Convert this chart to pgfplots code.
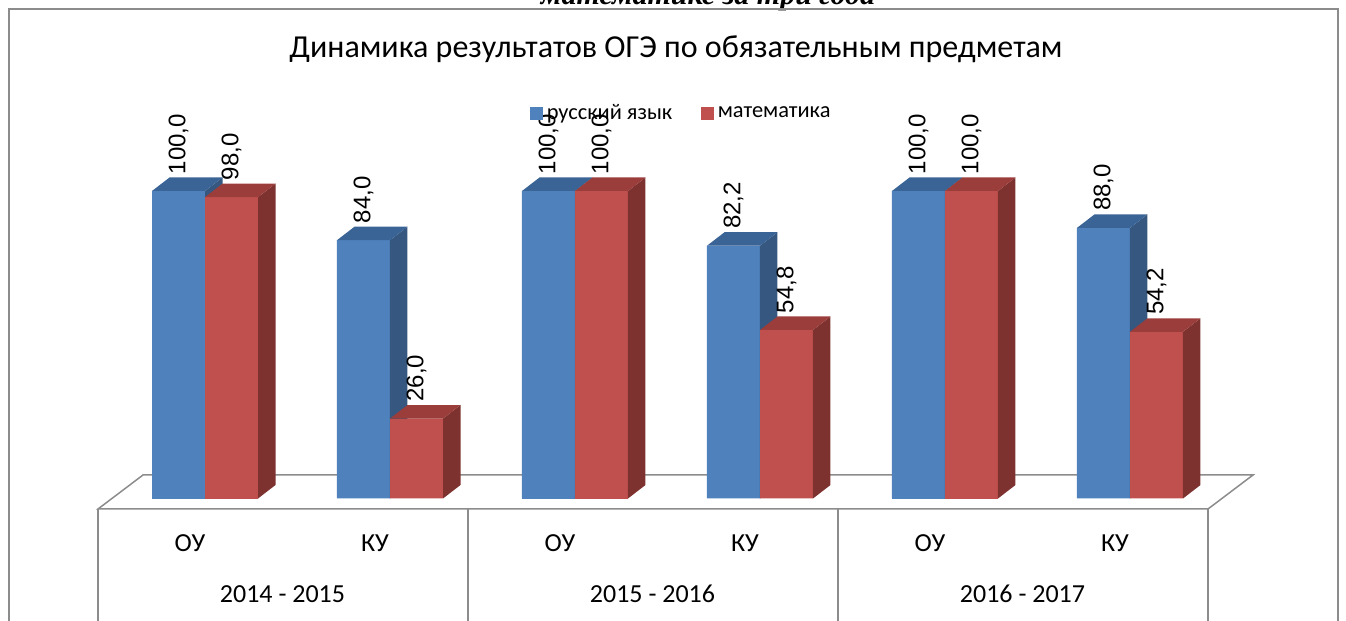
\documentclass[border=0pt]{standalone}
\usepackage{fontspec}
\setmainfont{Carlito}
\newfontfamily\valfont{Liberation Sans}
\newfontfamily\topfont{Liberation Serif}
\usepackage{pgfplots}
\pgfplotsset{compat=1.18}
\usepackage{pgfplotstable}

\definecolor{bfront}{HTML}{4F81BD}
\definecolor{btop}{HTML}{3B6496}
\definecolor{bside}{HTML}{355780}
\definecolor{rfront}{HTML}{C0504D}
\definecolor{rtop}{HTML}{9B3D3A}
\definecolor{rside}{HTML}{7E3230}
\definecolor{gridgray}{HTML}{8C8C8C}

\pgfplotstableread{
x rus
0 100.0
1 84.0
2 100.0
3 82.2
4 100.0
5 88.0
}\rus
\pgfplotstableread{
x mat
0 98.0
1 26.0
2 100.0
3 54.8
4 100.0
5 54.2
}\mat

% front, side and top faces of a 3D column; origin = top of the bar at category x
\newcommand\barfaces[4]{%
  \pgfmathsetmacro\H{\yv*1.5375}%
  \pgfmathsetmacro\Lx{#1}%
  \pgfmathsetmacro\Rx{#1+26.5}%
  \pgfsetfillcolor{#2}%
  \pgfpathrectanglecorners{\pgfpoint{\Lx pt}{-\H pt}}{\pgfpoint{\Rx pt}{0pt}}%
  \pgfusepath{fill}%
  \pgfsetfillcolor{#3}%
  \pgfpathmoveto{\pgfpoint{\Rx pt}{0pt}}%
  \pgfpathlineto{\pgfpoint{\Rx pt+8.75pt}{6.75pt}}%
  \pgfpathlineto{\pgfpoint{\Rx pt+8.75pt}{6.75pt-\H pt}}%
  \pgfpathlineto{\pgfpoint{\Rx pt}{-\H pt}}%
  \pgfpathclose
  \pgfusepath{fill}%
  \pgfsetfillcolor{#4}%
  \pgfpathmoveto{\pgfpoint{\Lx pt}{0pt}}%
  \pgfpathlineto{\pgfpoint{\Lx pt+8.75pt}{6.75pt}}%
  \pgfpathlineto{\pgfpoint{\Rx pt+8.75pt}{6.75pt}}%
  \pgfpathlineto{\pgfpoint{\Rx pt}{0pt}}%
  \pgfpathclose
  \pgfusepath{fill}%
}

\begin{document}
\begin{tikzpicture}[x=0.5pt,y=0.5pt]
\useasboundingbox (0,0) rectangle (1346,621);
\node[font=\topfont\bfseries\itshape\fontsize{15}{17}\selectfont, anchor=base, inner sep=0pt] at (708,616) {математике за три года};
\draw[gridgray, line width=1pt] (9,612) rectangle (1338,-30);
\node[font=\fontsize{16}{19}\selectfont, anchor=base, inner sep=0pt] at (676,563) {Динамика результатов ОГЭ по обязательным предметам};
\draw[gridgray, line width=0.75pt, fill=white] (98,112) -- (143,146) -- (1253,146) -- (1208,112) -- cycle;
\foreach \xx in {98,468,838,1208} \draw[gridgray, line width=1pt] (\xx,112) -- (\xx,-30);
\begin{axis}[
  at={(56.25pt,61.25pt)}, anchor=south west,
  scale only axis, width=555pt, height=153.75pt,
  xmin=-0.5, xmax=5.5, ymin=0, ymax=100,
  enlargelimits=false, clip=false,
  axis line style={draw=none}, major tick length=0pt,
  ytick=\empty,
  xtick={0,...,5},
  xticklabels={ОУ,КУ,ОУ,КУ,ОУ,КУ},
  extra x ticks={0.5,2.5,4.5},
  extra x tick labels={2014 - 2015,2015 - 2016,2016 - 2017},
  xticklabel style={font=\fontsize{13}{15}\selectfont, anchor=base, xshift=-7.5pt, yshift=-26.75pt},
  extra x tick style={xticklabel style={yshift=-25.5pt}},
  legend columns=2,
  legend style={at={(0.376,1.252)}, anchor=west, draw=none, fill=none, inner sep=0pt,
    font=\fontsize{11.2}{13}\selectfont,
    /tikz/every even column/.append style={column sep=12.5pt}},
  /pgf/number format/assume math mode=true,
]
\addplot[ybar, bar width=26.5pt, bar shift=-13.25pt, fill=bfront, draw=none,
  legend image code/.code={\fill[bfront] (0pt,-3.125pt) rectangle (6.25pt,3.125pt);},
  nodes near coords={\pgfmathprintnumber[fixed,fixed zerofill,precision=1,use comma]{\pgfplotspointmeta}},
  every node near coord/.append style={font=\valfont\fontsize{12}{14}\selectfont, text=black, inner sep=1pt, xshift=-13.25pt, yshift=7.25pt, rotate=90, anchor=west}]
  table[x=x, y=rus]{\rus};
\addlegendentry{русский язык}
\addplot[forget plot, scatter, only marks, mark=*, mark size=0pt, mark options={draw=none, fill=none},
  visualization depends on={\thisrow{rus} \as \yv},
  scatter/@pre marker code/.code={\barfaces{-26.5}{bfront}{bside}{btop}},
  scatter/@post marker code/.code={}]
  table[x=x, y=rus]{\rus};
\addplot[ybar, bar width=26.5pt, bar shift=13.25pt, fill=rfront, draw=none,
  legend image code/.code={\fill[rfront] (0pt,-3.125pt) rectangle (6.25pt,3.125pt);},
  nodes near coords={\pgfmathprintnumber[fixed,fixed zerofill,precision=1,use comma]{\pgfplotspointmeta}},
  every node near coord/.append style={font=\valfont\fontsize{12}{14}\selectfont, text=black, inner sep=1pt, xshift=13.25pt, yshift=7.25pt, rotate=90, anchor=west}]
  table[x=x, y=mat]{\mat};
\addlegendentry{математика}
\addplot[forget plot, scatter, only marks, mark=*, mark size=0pt, mark options={draw=none, fill=none},
  visualization depends on={\thisrow{mat} \as \yv},
  scatter/@pre marker code/.code={\barfaces{0}{rfront}{rside}{rtop}},
  scatter/@post marker code/.code={}]
  table[x=x, y=mat]{\mat};
\end{axis}
\end{tikzpicture}
\end{document}
